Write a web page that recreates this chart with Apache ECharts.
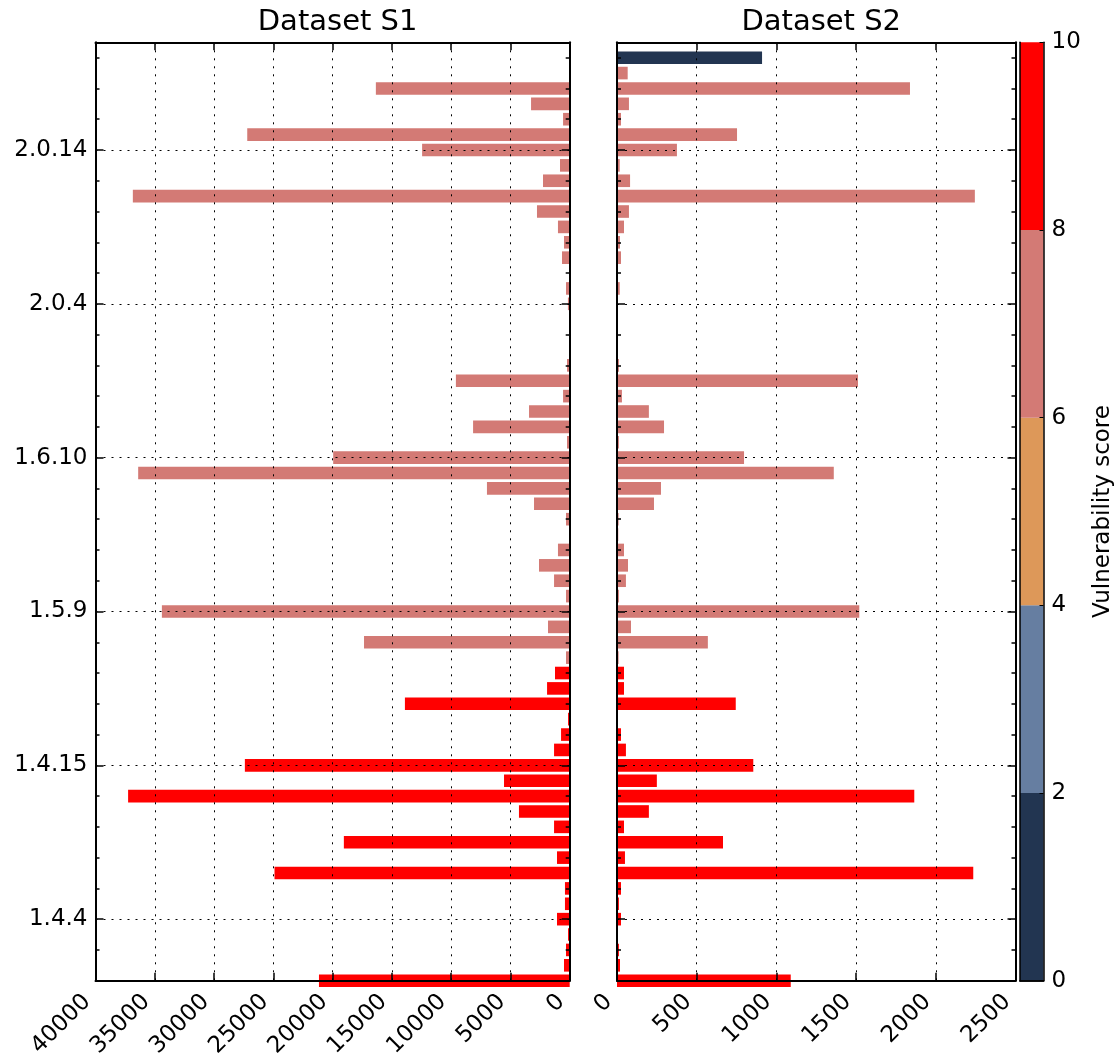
<!DOCTYPE html>
<html><head><meta charset="utf-8">
<script src="https://cdn.jsdelivr.net/npm/echarts@6/dist/echarts.min.js"></script>
<style>html,body{margin:0;padding:0;background:#fff}#c{width:1119px;height:1057px}</style>
</head><body><div id="c"></div>
<script>
// ---- data (index 0 = bottom row) ----
const versions = ['1.4.0','1.4.1','1.4.2','1.4.3','1.4.4','1.4.5','1.4.6','1.4.7','1.4.8','1.4.9',
  '1.4.10','1.4.11','1.4.12','1.4.13','1.4.15','1.5.0','1.5.1','1.5.2','1.5.3','1.5.4',
  '1.5.5','1.5.6','1.5.7','1.5.8','1.5.9','1.6.1','1.6.2','1.6.3','1.6.4','1.6.5',
  '1.6.6','1.6.7','1.6.8','1.6.9','1.6.10','1.6.11','1.6.12','1.6.13','1.6.14','1.6.15',
  '2.0.0','2.0.1','2.0.2','2.0.3','2.0.4','2.0.5','2.0.6','2.0.7','2.0.8','2.0.9',
  '2.0.10','2.0.11','2.0.12','2.0.13','2.0.14','2.0.15','2.0.16','2.0.17','2.0.18','2.0.19','2.0.20'];
const labeledVersions = ['1.4.4','1.4.15','1.5.9','1.6.10','2.0.4','2.0.14'];
const s1Values = [21150,480,310,140,1070,400,400,24900,1070,19050,
  1320,4280,37250,5540,27400,1320,730,140,13900,1910,
  1240,310,17350,1830,34400,310,1320,2590,990,0,
  310,3010,6980,36400,19950,230,8150,3430,560,9600,
  230,20,30,40,150,310,0,650,480,990,
  2760,36850,2250,820,12450,27200,560,3260,16350,0,0];
const s2Values = [1090,19,12,0,25,12,25,2235,50,665,
  44,200,1865,250,855,56,25,3,745,44,
  44,10,570,88,1520,12,56,69,44,8,
  10,232,276,1360,797,12,295,200,31,1512,
  12,0,0,0,5,17,0,25,19,44,
  75,2245,82,17,376,753,25,75,1838,67,910];
const scores = [9.3,9.3,9.3,9.3,9.3,9.3,9.3,9.3,9.3,9.3,
  9.3,9.3,9.3,9.3,9.3,9.3,9.3,9.3,9.3,9.3,
  9.3,7.5,7.5,7.5,7.5,7.5,7.5,7.5,7.5,7.5,
  7.5,7.5,7.5,7.5,7.5,7.5,7.5,7.5,7.5,7.5,
  7.5,7.5,7.5,7.5,7.5,7.5,7.5,7.5,7.5,7.5,
  7.5,7.5,7.5,7.5,7.5,7.5,7.5,7.5,7.5,7.5,1.5];
const scoreBins = [0,2,4,6,8,10];
const binColors = ['#223551','#667ea1','#dd9859','#d37a75','#ff0000'];
const s1Ticks = {min:0, max:40000, interval:5000};
const s2Ticks = {min:0, max:2500, interval:500};

// ---- helpers ----
const FONT = 'DejaVu Sans';
function colorFor(score){ let k=0; while(k<binColors.length-1 && score>=scoreBins[k+1]) k++; return binColors[k]; }
const isLabeled = (i,v) => labeledVersions.indexOf(versions[i]) >= 0;
const isMinor = (i) => i % 2 === 0;
const gridLine = {show:true, lineStyle:{color:'#000', width:1, type:[2,6]}};
const border = {show:true, onZero:false, lineStyle:{color:'#000', width:2}};

function yAxes(gridIndex, showLabels){
  const base = {type:'category', data:versions, max:versions.length, boundaryGap:false, gridIndex, z:5};
  return [
    Object.assign({}, base, {position:'left', axisLine:border,
      axisTick:{show:true, inside:true, length:4, interval:isMinor, lineStyle:{color:'#000', width:1.5}},
      axisLabel:{show:showLabels, interval:isLabeled, fontSize:23, fontFamily:FONT, color:'#000', margin:8},
      splitLine:Object.assign({interval:isLabeled}, gridLine)}),
    Object.assign({}, base, {position:'left', axisLine:{show:false, onZero:false},
      axisTick:{show:true, inside:true, length:8, interval:isLabeled, lineStyle:{color:'#000', width:1.5}},
      axisLabel:{show:false}, splitLine:{show:false}}),
    Object.assign({}, base, {position:'right', axisLine:border,
      axisTick:{show:true, inside:true, length:4, interval:isMinor, lineStyle:{color:'#000', width:1.5}},
      axisLabel:{show:false}, splitLine:{show:false}}),
    Object.assign({}, base, {position:'right', axisLine:{show:false, onZero:false},
      axisTick:{show:true, inside:true, length:8, interval:isLabeled, lineStyle:{color:'#000', width:1.5}},
      axisLabel:{show:false}, splitLine:{show:false}})
  ];
}
function xAxes(gridIndex, ticks, inverse){
  const base = Object.assign({type:'value', gridIndex, inverse, z:5}, ticks);
  return [
    Object.assign({}, base, {position:'bottom', axisLine:border,
      axisTick:{show:true, inside:true, length:8, lineStyle:{color:'#000', width:1.5}},
      axisLabel:{show:true, rotate:45, fontSize:23, fontFamily:FONT, color:'#000', margin:9,
        padding:[0,12,0,0], formatter:v=>String(v)},
      splitLine:gridLine}),
    Object.assign({}, base, {position:'top', axisLine:border,
      axisTick:{show:true, inside:true, length:8, lineStyle:{color:'#000', width:1.5}},
      axisLabel:{show:false}, splitLine:{show:false}})
  ];
}

const gridTop = 42.3, gridHeight = 938.4;
const grids = [
  {left:95.5, top:gridTop, width:474.2, height:gridHeight, containLabel:false, outerBoundsMode:'none'},
  {left:617, top:gridTop, width:398.5, height:gridHeight, containLabel:false, outerBoundsMode:'none'},
  {left:1020, top:gridTop, width:23.5, height:gridHeight, containLabel:false, outerBoundsMode:'none'}
];

const yAx = [...yAxes(0,true), ...yAxes(1,false)];
const xAx = [...xAxes(0, s1Ticks, true), ...xAxes(1, s2Ticks, false)];
// colorbar axes
xAx.push({type:'category', gridIndex:2, data:['score'], position:'bottom', z:5,
  axisLine:{show:true, lineStyle:{color:'#000', width:1.5}}, axisTick:{show:false}, axisLabel:{show:false}, splitLine:{show:false}});
xAx.push({type:'category', gridIndex:2, data:['score'], position:'top', z:5,
  axisLine:{show:true, lineStyle:{color:'#000', width:1.5}}, axisTick:{show:false}, axisLabel:{show:false}, splitLine:{show:false}});
yAx.push({type:'value', gridIndex:2, min:scoreBins[0], max:scoreBins[scoreBins.length-1], interval:2, position:'right', z:5,
  axisLine:{show:true, onZero:false, lineStyle:{color:'#000', width:1.5}},
  axisTick:{show:true, inside:true, length:4, lineStyle:{color:'#000', width:1}},
  axisLabel:{show:true, fontSize:23, fontFamily:FONT, color:'#000', margin:8},
  splitLine:{show:false},
  name:'Vulnerability score', nameLocation:'middle', nameRotate:90, nameGap:48,
  nameTextStyle:{fontSize:23, fontFamily:FONT, color:'#000'}});
yAx.push({type:'value', gridIndex:2, min:scoreBins[0], max:scoreBins[scoreBins.length-1], interval:2, position:'left', z:5,
  axisLine:{show:true, onZero:false, lineStyle:{color:'#000', width:1.5}},
  axisTick:{show:false}, axisLabel:{show:false}, splitLine:{show:false}});

const cbXIndex = 4, cbYIndex = 8;
const series = [
  {type:'bar', xAxisIndex:0, yAxisIndex:0, barWidth:'82%', clip:true, silent:true,
   data:s1Values.map((v,i)=>({value:v, itemStyle:{color:colorFor(scores[i])}}))},
  {type:'bar', xAxisIndex:2, yAxisIndex:4, barWidth:'82%', clip:true, silent:true,
   data:s2Values.map((v,i)=>({value:v, itemStyle:{color:colorFor(scores[i])}}))}
];
for (let k=0;k<binColors.length;k++){
  series.push({type:'bar', xAxisIndex:cbXIndex, yAxisIndex:cbYIndex, stack:'cb', barWidth:'100%', silent:true,
    itemStyle:{color:binColors[k]}, data:[scoreBins[k+1]-scoreBins[k]]});
}

const chart = echarts.init(document.getElementById('c'), null, {renderer:'canvas'});
chart.setOption({
  animation:false,
  backgroundColor:'#fff',
  title:[
    {text:'Dataset S1', left:95.5+474.2/2, top:3, textAlign:'center', textStyle:{fontSize:29, fontWeight:'normal', fontFamily:FONT, color:'#000'}},
    {text:'Dataset S2', left:617+398.5/2, top:3, textAlign:'center', textStyle:{fontSize:29, fontWeight:'normal', fontFamily:FONT, color:'#000'}}
  ],
  grid:grids,
  xAxis:xAx,
  yAxis:yAx,
  series
});
</script></body></html>
